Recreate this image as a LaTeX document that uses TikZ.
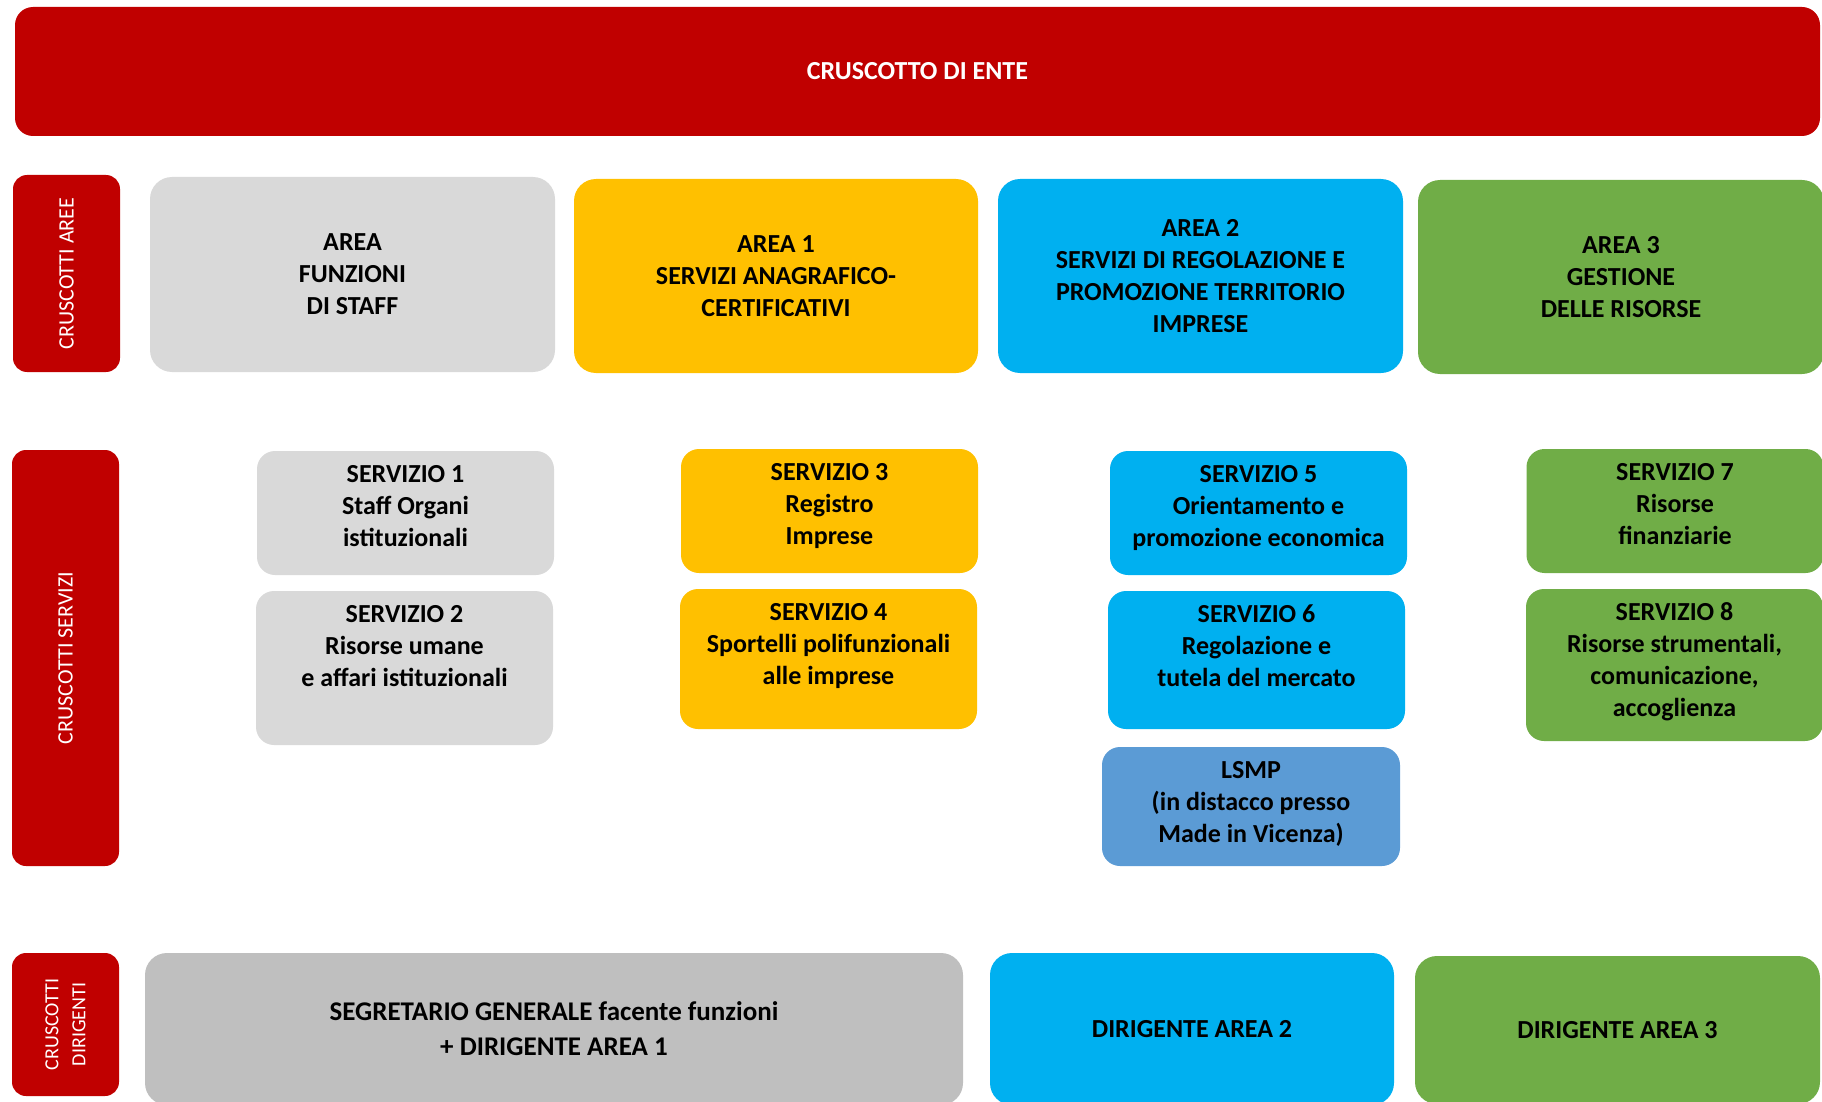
\documentclass[tikz,border=0pt]{standalone}
\usepackage{fontspec}
\setmainfont{Carlito}
\usetikzlibrary{positioning}
\definecolor{enteRed}{HTML}{C00000}
\definecolor{staffGray}{HTML}{D9D9D9}
\definecolor{areaYellow}{HTML}{FFC000}
\definecolor{areaCyan}{HTML}{00B0F0}
\definecolor{areaGreen}{HTML}{70AD47}
\definecolor{lsmpBlue}{HTML}{5B9BD5}
\definecolor{segrGray}{HTML}{BFBFBF}
\tikzset{
  box/.style={rounded corners=11pt, inner sep=0pt},
  bigtxt/.style={font=\fontsize{13}{16}\selectfont\bfseries, align=center, inner sep=0pt},
  svcbox/.style={rounded corners=9pt, inner sep=0pt, minimum width=148.5pt},
  sidebox/.style={fill=enteRed, rounded corners=7pt, rotate=90, text=white,
    font=\fontsize{11}{13.5}\selectfont, align=center, inner sep=0pt},
}

\begin{document}
\begin{tikzpicture}[x=1pt, y=-1pt]
    \useasboundingbox (0,0) rectangle (911,551);

    % Cruscotto di ente
    \node[box, rounded corners=9pt, fill=enteRed, text=white, bigtxt,
      minimum width=902.5pt, minimum height=64.5pt] (ente) at (458.75,35.75) {CRUSCOTTO DI ENTE};

    % Side labels
    \node[sidebox, minimum width=98.5pt, minimum height=53.5pt] (cAree) at (33.25,136.75) {CRUSCOTTI AREE};
    \node[sidebox, minimum width=208pt, minimum height=53.5pt] (cServizi) at (32.75,329) {CRUSCOTTI SERVIZI};
    \node[sidebox, minimum width=71.5pt, minimum height=53.5pt,
      font=\fontsize{10}{13.5}\selectfont] (cDirigenti) at (32.75,512.25) {CRUSCOTTI\\DIRIGENTI};

    % Cruscotti aree
    \node[box, fill=staffGray, bigtxt, minimum width=202.5pt, minimum height=97.5pt] (staff) at (176.25,137.25) {AREA\\FUNZIONI\\DI STAFF};
    \node[box, fill=areaYellow, bigtxt, minimum width=202pt, minimum height=97pt] (area1) at (388,138) {AREA 1\\SERVIZI ANAGRAFICO-\\CERTIFICATIVI};
    \node[box, fill=areaCyan, bigtxt, minimum width=202.5pt, minimum height=97pt] (area2) at (600.25,138) {AREA 2\\SERVIZI DI REGOLAZIONE E\\PROMOZIONE TERRITORIO\\IMPRESE};
    \node[box, fill=areaGreen, bigtxt, minimum width=203pt, minimum height=97pt] (area3) at (810.5,138.5) {AREA 3\\GESTIONE\\DELLE RISORSE};

    % Cruscotti servizi
    \node[svcbox, fill=staffGray, minimum height=62pt] (s1) at (202.75,256.5) {};
    \node[bigtxt, below=7pt of s1.north] (s1t) {SERVIZIO 1\\Staff Organi\\istituzionali};
    \node[svcbox, fill=staffGray, minimum height=77pt] (s2) at (202.25,334) {};
    \node[bigtxt, below=7pt of s2.north] (s2t) {SERVIZIO 2\\Risorse umane\\e affari istituzionali};

    \node[svcbox, fill=areaYellow, minimum height=62pt] (s3) at (414.75,255.5) {};
    \node[bigtxt, below=7pt of s3.north] (s3t) {SERVIZIO 3\\Registro\\Imprese};
    \node[svcbox, fill=areaYellow, minimum height=70pt] (s4) at (414.25,329.5) {};
    \node[bigtxt, below=7pt of s4.north] (s4t) {SERVIZIO 4\\Sportelli polifunzionali\\alle imprese};

    \node[svcbox, fill=areaCyan, minimum height=62pt] (s5) at (629.25,256.5) {};
    \node[bigtxt, below=7pt of s5.north] (s5t) {SERVIZIO 5\\Orientamento e\\promozione economica};
    \node[svcbox, fill=areaCyan, minimum height=69pt] (s6) at (628.25,330) {};
    \node[bigtxt, below=7pt of s6.north] (s6t) {SERVIZIO 6\\Regolazione e\\tutela del mercato};
    \node[svcbox, fill=lsmpBlue, minimum width=149pt, minimum height=59.5pt] (lsmp) at (625.5,403.25) {};
    \node[bigtxt, below=7pt of lsmp.north] (lsmpt) {LSMP\\(in distacco presso\\Made in Vicenza)};

    \node[svcbox, fill=areaGreen, minimum height=62pt] (s7) at (837.5,255.5) {};
    \node[bigtxt, below=7pt of s7.north] (s7t) {SERVIZIO 7\\Risorse\\finanziarie};
    \node[svcbox, fill=areaGreen, minimum height=76pt] (s8) at (837.25,332.5) {};
    \node[bigtxt, below=7pt of s8.north] (s8t) {SERVIZIO 8\\Risorse strumentali,\\comunicazione,\\accoglienza};

    % Cruscotti dirigenti
    \node[box, fill=segrGray, bigtxt, font=\fontsize{13.5}{17.5}\selectfont\bfseries,
      minimum width=409pt, minimum height=76pt] (segr) at (277,514.5) {SEGRETARIO GENERALE facente funzioni\\+ DIRIGENTE AREA 1};
    \node[box, fill=areaCyan, bigtxt, minimum width=202pt, minimum height=76pt] (dir2) at (596,514.5) {DIRIGENTE AREA 2};
    \node[box, fill=areaGreen, bigtxt, minimum width=202.5pt, minimum height=74pt] (dir3) at (808.75,515) {DIRIGENTE AREA 3};
\end{tikzpicture}
\end{document}
